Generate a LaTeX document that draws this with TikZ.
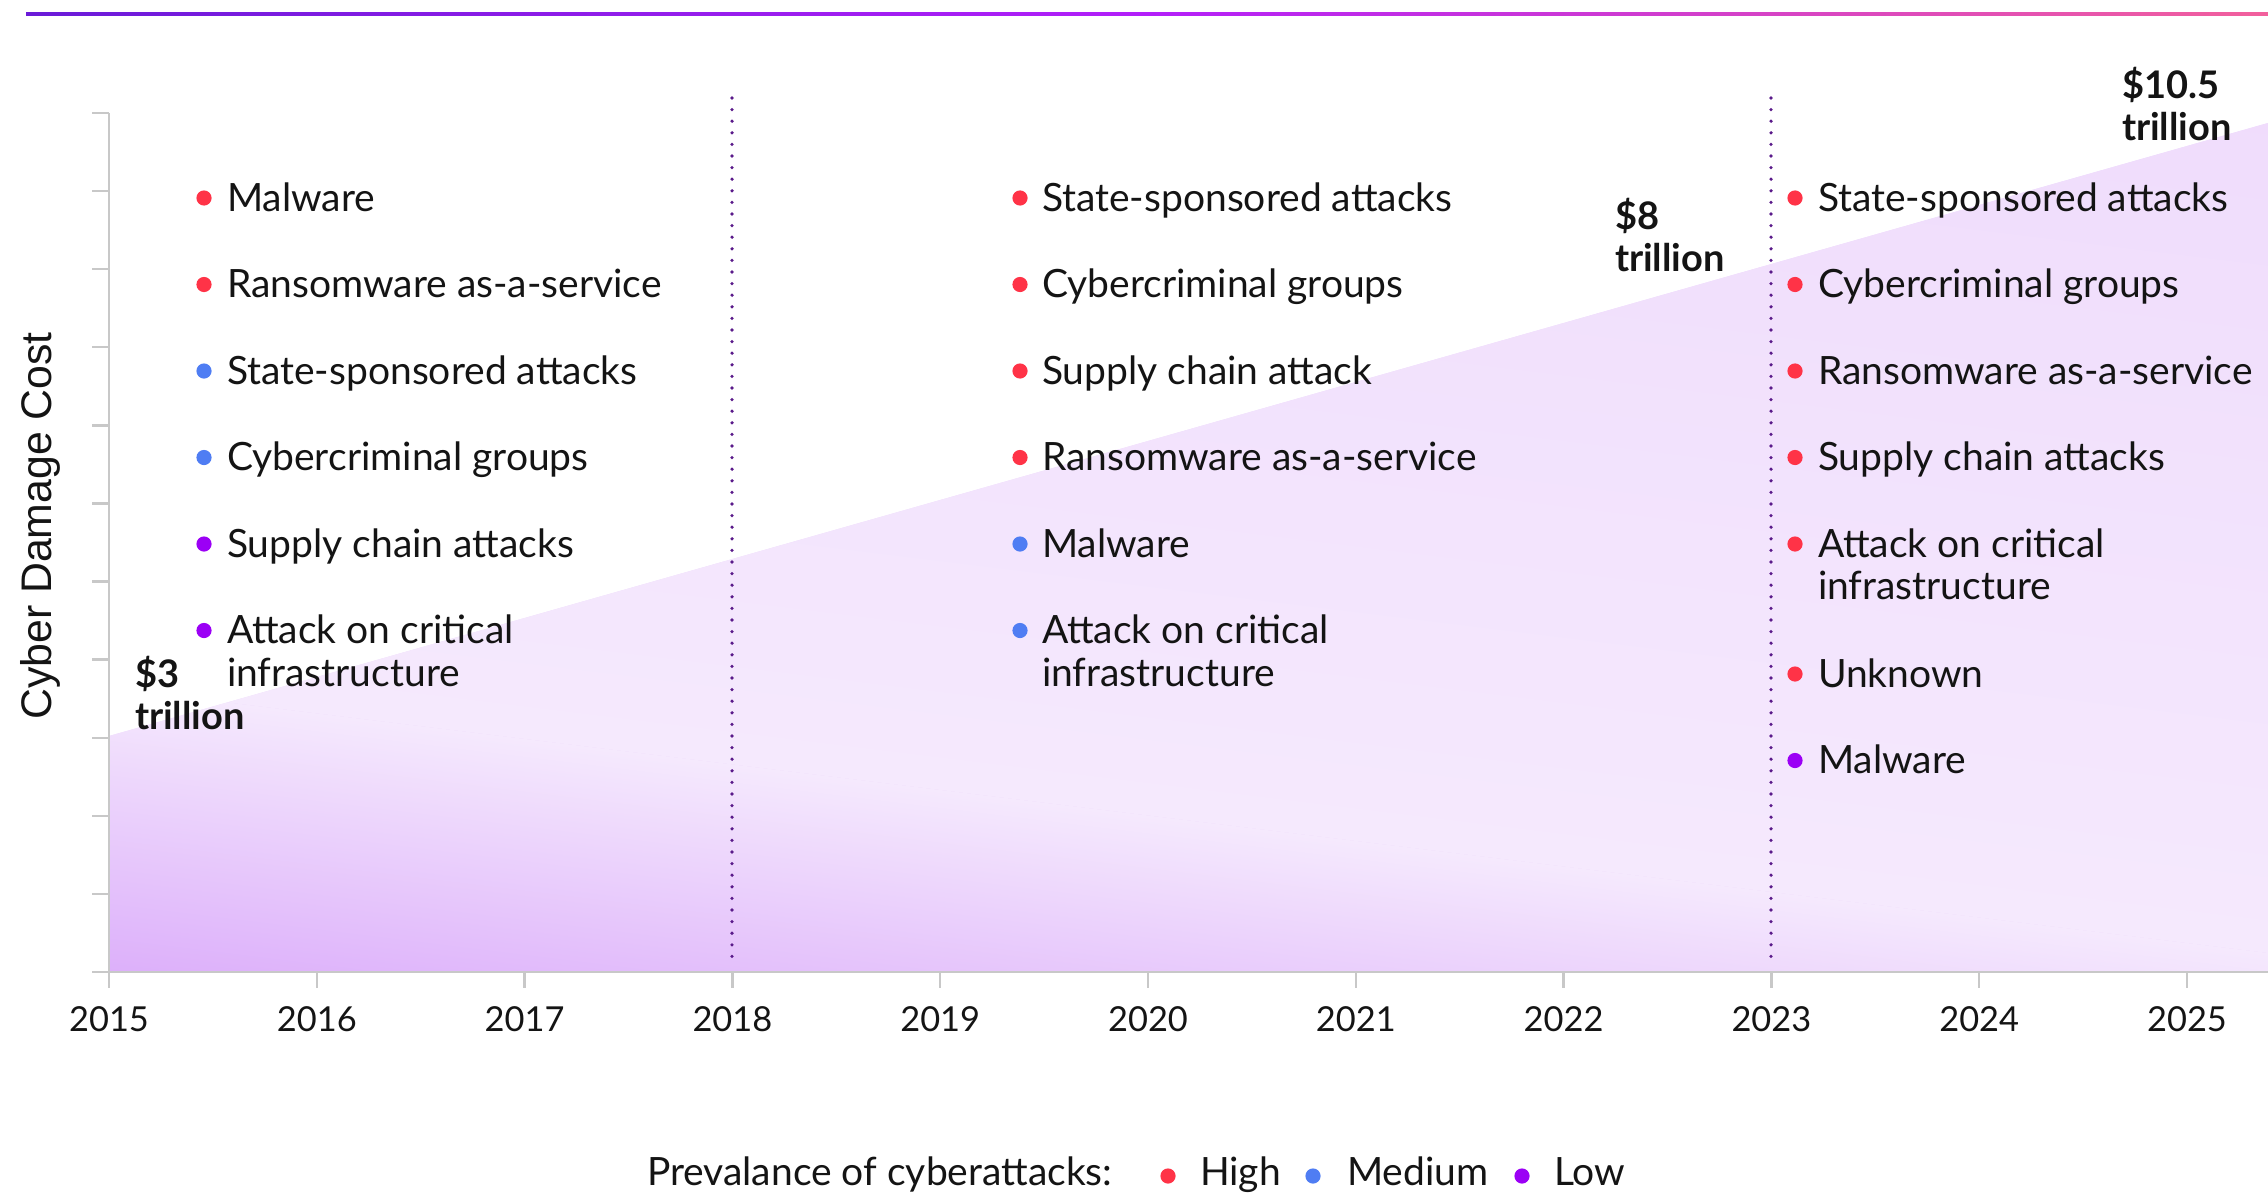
\documentclass[tikz,border=0pt]{standalone}
\usepackage{fontspec}
\setmainfont{Lato}
\newfontfamily\axisfont{Liberation Sans}
\usetikzlibrary{positioning}

\definecolor{high}{HTML}{FF3347}
\definecolor{medium}{HTML}{4F7DF3}
\definecolor{low}{HTML}{9B00F5}
\definecolor{gridgray}{HTML}{C8C8C8}
\definecolor{dotline}{HTML}{5A1A8A}
\definecolor{areadark}{HTML}{DBACFA}
\definecolor{areamid}{HTML}{E5C4FB}
\definecolor{arealight}{HTML}{F5E9FD}
\definecolor{areatop}{HTML}{EFDBFC}
\definecolor{barleft}{HTML}{6A1BD8}
\definecolor{barmid}{HTML}{B31EFA}
\definecolor{barright}{HTML}{F2609C}

% two lines, baseline on the first one
\newcommand{\twoline}[1]{\begin{tabular}[t]{@{}l@{}}#1\end{tabular}}

\begin{document}
\begin{tikzpicture}[x=0.5pt, y=-0.5pt,
    every node/.style={inner sep=0pt, outer sep=0pt, text=black!92},
    item/.style={anchor=base west, font=\fontsize{19.5}{21.3}\selectfont},
    row/.style={below=43.25pt of #1.base west, anchor=base west},
    bul/.style={circle, minimum size=7.6pt, fill=#1, draw=none},
    cost/.style={anchor=base west, font=\fontsize{19}{21}\selectfont\bfseries},
    year/.style={anchor=base, font=\fontsize{17.2}{19}\selectfont},
    axis/.style={draw=gridgray, line width=1.2pt},
    divider/.style={draw=dotline, line width=1.8pt, line cap=round, dash pattern=on 0pt off 5.8pt}]
    \useasboundingbox (0,0) rectangle (2268,1193);

    % top rule
    \shade[left color=barleft, right color=barright, middle color=barmid] (26,12.5) rectangle (2268,15.5);

    % area under the cost line
    \begin{scope}
        \clip (109,736) -- (2268,123) -- (2268,972) -- (109,972) -- cycle;
        \fill[areatop] (0,0) rectangle (2268,1000);
        \begin{scope}[transform canvas={rotate around={-7:(109,972)}}]
            \shade[top color=arealight, middle color=areamid, bottom color=areadark] (0,990) rectangle (2600,690);
            \shade[top color=areatop, bottom color=arealight] (0,690) rectangle (2600,-220);
        \end{scope}
    \end{scope}

    % axes
    \draw[axis] (109,113) -- (109,972) -- (2268,972);
    \foreach \k in {0,...,11}
        \draw[axis] (92,{113+78.09*\k}) -- (109,{113+78.09*\k});
    \foreach \yr [count=\i from 0] in {2015,...,2025} {
        \draw[axis] ({109+207.8*\i},972) -- ++(0,16);
        \node[year] (y\yr) at ({109+207.8*\i},1031) {\yr};
    }
    \node[rotate=90, font=\axisfont\fontsize{21.4}{24}\selectfont] (ylab) at (40,526) {Cyber Damage Cost};

    \draw[divider] (732,98) -- (732,960);
    \draw[divider] (1771,98) -- (1771,958);

    % cost labels
    \node[cost] (c3) at (135,687) {\twoline{\$3\\trillion}};
    \node[cost] (c8) at (1615,229) {\twoline{\$8\\trillion}};
    \node[cost] (c105) at (2122,98) {\twoline{\$10.5\\trillion}};

    % 2015 column
    \node[item] (malL) at (227,211) {Malware};
    \node[item, row=malL] (ranL) {Ransomware as-a-service};
    \node[item, row=ranL] (staL) {State-sponsored attacks};
    \node[item, row=staL] (cybL) {Cybercriminal groups};
    \node[item, row=cybL] (supL) {Supply chain attacks};
    \node[item, row=supL] (attL) {\twoline{Attack on critical\\infrastructure}};
    \node[bul=high] (malLd) at ([shift={(-11.5pt,6.5pt)}]malL.base west) {};
    \node[bul=high] (ranLd) at ([shift={(-11.5pt,6.5pt)}]ranL.base west) {};
    \node[bul=medium] (staLd) at ([shift={(-11.5pt,6.5pt)}]staL.base west) {};
    \node[bul=medium] (cybLd) at ([shift={(-11.5pt,6.5pt)}]cybL.base west) {};
    \node[bul=low] (supLd) at ([shift={(-11.5pt,6.5pt)}]supL.base west) {};
    \node[bul=low] (attLd) at ([shift={(-11.5pt,6.5pt)}]attL.base west) {};

    % 2019 column
    \node[item] (staM) at (1042,211) {State-sponsored attacks};
    \node[item, row=staM] (cybM) {Cybercriminal groups};
    \node[item, row=cybM] (supM) {Supply chain attack};
    \node[item, row=supM] (ranM) {Ransomware as-a-service};
    \node[item, row=ranM] (malM) {Malware};
    \node[item, row=malM] (attM) {\twoline{Attack on critical\\infrastructure}};
    \node[bul=high] (staMd) at ([shift={(-11pt,6.5pt)}]staM.base west) {};
    \node[bul=high] (cybMd) at ([shift={(-11pt,6.5pt)}]cybM.base west) {};
    \node[bul=high] (supMd) at ([shift={(-11pt,6.5pt)}]supM.base west) {};
    \node[bul=high] (ranMd) at ([shift={(-11pt,6.5pt)}]ranM.base west) {};
    \node[bul=medium] (malMd) at ([shift={(-11pt,6.5pt)}]malM.base west) {};
    \node[bul=medium] (attMd) at ([shift={(-11pt,6.5pt)}]attM.base west) {};

    % 2023 column
    \node[item] (staR) at (1818,211) {State-sponsored attacks};
    \node[item, row=staR] (cybR) {Cybercriminal groups};
    \node[item, row=cybR] (ranR) {Ransomware as-a-service};
    \node[item, row=ranR] (supR) {Supply chain attacks};
    \node[item, row=supR] (attR) {\twoline{Attack on critical\\infrastructure}};
    \node[item, below=65pt of attR.base west, anchor=base west] (unkR) {Unknown};
    \node[item, row=unkR] (malR) {Malware};
    \node[bul=high] (staRd) at ([shift={(-11.5pt,6.5pt)}]staR.base west) {};
    \node[bul=high] (cybRd) at ([shift={(-11.5pt,6.5pt)}]cybR.base west) {};
    \node[bul=high] (ranRd) at ([shift={(-11.5pt,6.5pt)}]ranR.base west) {};
    \node[bul=high] (supRd) at ([shift={(-11.5pt,6.5pt)}]supR.base west) {};
    \node[bul=high] (attRd) at ([shift={(-11.5pt,6.5pt)}]attR.base west) {};
    \node[bul=high] (unkRd) at ([shift={(-11.5pt,6.5pt)}]unkR.base west) {};
    \node[bul=low] (malRd) at ([shift={(-11.5pt,6.5pt)}]malR.base west) {};

    % legend
    \node[item] (prev) at (647,1185) {Prevalance of cyberattacks:};
    \node[item] (hi) at (1200,1185) {High};
    \node[item] (med) at (1347,1185) {Medium};
    \node[item] (lo) at (1554,1185) {Low};
    \node[bul=high] (hid) at ([shift={(-16pt,4.5pt)}]hi.base west) {};
    \node[bul=medium] (medd) at ([shift={(-17pt,4.5pt)}]med.base west) {};
    \node[bul=low] (lod) at ([shift={(-16pt,4.5pt)}]lo.base west) {};
\end{tikzpicture}
\end{document}
